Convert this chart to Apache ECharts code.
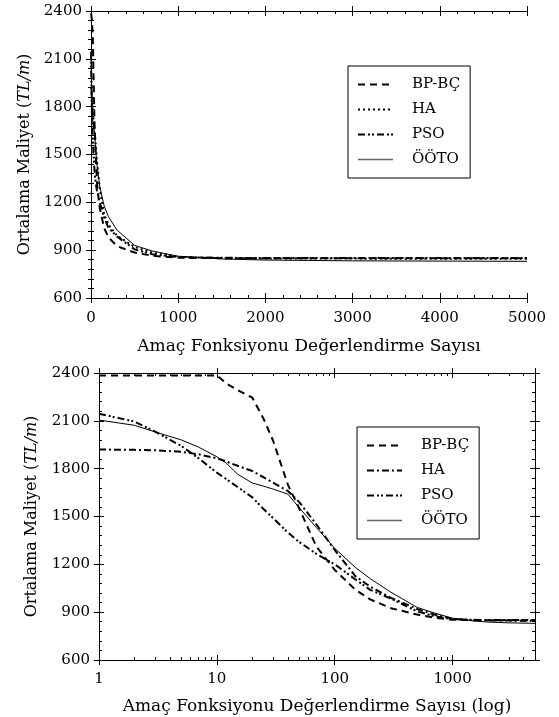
<!DOCTYPE html>
<html>
<head>
<meta charset="utf-8">
<script src="https://cdn.jsdelivr.net/npm/echarts@6/dist/echarts.min.js"></script>
<style>
html, body { margin: 0; padding: 0; background: #fff; }
#chart { width: 559px; height: 717px; }
</style>
</head>
<body>
<div id="chart"></div>
<script>
// objective function evaluations (x) and mean cost (TL/m) per algorithm
const evals = [1, 2, 3, 5, 7, 10, 12, 15, 20, 25, 30, 40, 50, 70, 100, 150, 200, 300, 500, 700, 1000, 1500, 2000, 3000, 5000];
const bpbc = [2385, 2385, 2385, 2385, 2385, 2385, 2335, 2293, 2245, 2110, 1975, 1700, 1550, 1310, 1165, 1040, 980, 925, 885, 865, 852, 850, 849, 849, 849];
const ha   = [1920, 1918, 1915, 1906, 1890, 1865, 1845, 1818, 1785, 1745, 1712, 1660, 1590, 1450, 1290, 1125, 1060, 990, 920, 885, 858, 850, 848, 847, 846];
const pso  = [2145, 2095, 2032, 1942, 1865, 1775, 1735, 1685, 1620, 1545, 1490, 1400, 1340, 1265, 1200, 1105, 1040, 985, 905, 875, 856, 852, 851, 851, 851];
const ooto = [2105, 2072, 2030, 1980, 1935, 1875, 1835, 1765, 1710, 1690, 1672, 1640, 1555, 1430, 1300, 1180, 1110, 1025, 930, 895, 862, 845, 838, 833, 830];
const names = ['BP-BÇ', 'HA', 'PSO', 'ÖÖTO'];
const logMinor = [2, 3, 4, 5, 6, 7, 8, 9, 20, 30, 40, 50, 60, 70, 80, 90, 200, 300, 400, 500, 600, 700, 800, 900, 2000, 3000, 4000];

const font = 'DejaVu Serif';
const black = '#000';
const xTitle = 'Amaç Fonksiyonu Değerlendirme Sayısı';

// dash patterns
const dashBP = [7, 5];
const dotHA = [2, 3];
const dashDotHA = [7, 3, 2, 3];
const dashDotDotPSO = [7, 3, 2, 2, 2, 3];

function pairs(ys) {
    return evals.map((x, i) => [x, ys[i]]);
}

const axisLine = {show: true, lineStyle: {color: black, width: 1}};
const labelStyle = {color: black, fontFamily: font, fontSize: 15, formatter: v => String(Math.round(v))};

function valAxis(grid, pos, inside, labels, min, max, interval, extra) {
    return Object.assign({
        type: 'value', gridIndex: grid, position: pos,
        min: min, max: max, interval: interval,
        axisLine: axisLine, splitLine: {show: false},
        axisTick: {show: true, inside: inside, length: 5, lineStyle: {color: black}},
        minorTick: {show: inside, splitNumber: 5, length: 3, lineStyle: {color: black}},
        axisLabel: Object.assign({show: labels, margin: 10}, labelStyle)
    }, extra || {});
}

function logAxis(pos, inside, labels, extra) {
    return Object.assign({
        type: 'log', logBase: 10, gridIndex: 1, position: pos, min: 1, max: 5000,
        axisLine: axisLine, splitLine: {show: false},
        axisTick: {show: true, inside: inside, length: 5, lineStyle: {color: black}},
        axisLabel: Object.assign({show: labels, showMaxLabel: false, margin: 12}, labelStyle)
    }, extra || {});
}

function minorLogAxis(pos) {
    return {
        type: 'value', gridIndex: 1, position: pos, min: 0, max: Math.log10(5000),
        axisLine: {show: false}, splitLine: {show: false}, axisLabel: {show: false},
        axisTick: {show: true, inside: true, length: 3, lineStyle: {color: black},
            customValues: logMinor.map(v => Math.log10(v))}
    };
}

const yName = {
    name: '{n|Ortalama Maliyet (}{i|TL/m}{n|)}',
    nameLocation: 'middle', nameRotate: 90,
    nameTextStyle: {
        rich: {
            n: {fontFamily: font, fontSize: 16, color: black},
            i: {fontFamily: font, fontSize: 16, color: black, fontStyle: 'italic'}
        }
    }
};
const xName = {
    name: xTitle, nameLocation: 'middle',
    nameTextStyle: {fontFamily: font, fontSize: 17, color: black}
};

const xAxes = [
    // top chart (linear)
    valAxis(0, 'bottom', false, true, 0, 5000, 1000, Object.assign({nameGap: 40}, xName)),
    valAxis(0, 'bottom', true, false, 0, 5000, 1000),
    valAxis(0, 'top', true, false, 0, 5000, 1000),
    valAxis(0, 'top', false, false, 0, 5000, 1000),
    // bottom chart (log)
    logAxis('bottom', false, true, Object.assign({}, xName, {name: xTitle + ' (log)', nameGap: 38})),
    logAxis('bottom', true, false),
    minorLogAxis('bottom'),
    logAxis('top', true, false),
    logAxis('top', false, false),
    minorLogAxis('top')
];
xAxes[0].axisLabel.margin = 13;

const yAxes = [];
[0, 1].forEach(g => {
    const y = valAxis(g, 'left', false, true, 600, 2400, 300, Object.assign({nameGap: g === 0 ? 52 : 59}, yName));
    y.axisLabel.margin = 9;
    yAxes.push(y);
    yAxes.push(valAxis(g, 'left', true, false, 600, 2400, 300));
    yAxes.push(valAxis(g, 'right', true, false, 600, 2400, 300));
    yAxes.push(valAxis(g, 'right', false, false, 600, 2400, 300));
});

const values = [bpbc, ha, pso, ooto];
const topStyles = [
    {type: dashBP, width: 2},
    {type: dotHA, width: 2},
    {type: dashDotDotPSO, width: 2},
    {type: 'solid', width: 1}
];
const bottomStyles = [
    {type: dashBP, width: 2},
    {type: dashDotHA, width: 2},
    {type: dashDotDotPSO, width: 2},
    {type: 'solid', width: 1}
];

const series = [];
names.forEach((n, i) => {
    series.push({
        name: n, type: 'line', xAxisIndex: 0, yAxisIndex: 0,
        data: pairs(values[i]), symbol: 'none', showSymbol: false,
        lineStyle: Object.assign({color: black}, topStyles[i]),
        itemStyle: {color: black}
    });
});
names.forEach((n, i) => {
    series.push({
        name: n, type: 'line', xAxisIndex: 4, yAxisIndex: 4,
        data: pairs(values[i]), symbol: 'none', showSymbol: false,
        lineStyle: Object.assign({color: black}, bottomStyles[i]),
        itemStyle: {color: black}
    });
});

function legendFor(left, top, styles) {
    return {
        orient: 'vertical', left: left, top: top,
        itemWidth: 35, itemHeight: 14, itemGap: 10,
        padding: [11, 10, 11, 9],
        borderColor: black, borderWidth: 1, backgroundColor: '#fff',
        selectedMode: false,
        itemStyle: {opacity: 0},
        textStyle: {fontFamily: font, fontSize: 15, color: black, padding: [0, 0, 0, 14]},
        data: names.map((n, i) => ({
            name: n,
            itemStyle: {opacity: 0},
            lineStyle: i === 3 ? {color: '#666', width: 1.5, type: 'solid'} : {color: black, width: 2, type: styles[i].type}
        }))
    };
}

const chart = echarts.init(document.getElementById('chart'));
chart.setOption({
    animation: false,
    backgroundColor: '#fff',
    grid: [
        {left: 91, top: 11, width: 436, height: 287},
        {left: 99, top: 373, width: 436, height: 287}
    ],
    legend: [
        legendFor(348, 66, topStyles),
        legendFor(357, 427, bottomStyles)
    ],
    xAxis: xAxes,
    yAxis: yAxes,
    series: series
});
</script>
</body>
</html>
